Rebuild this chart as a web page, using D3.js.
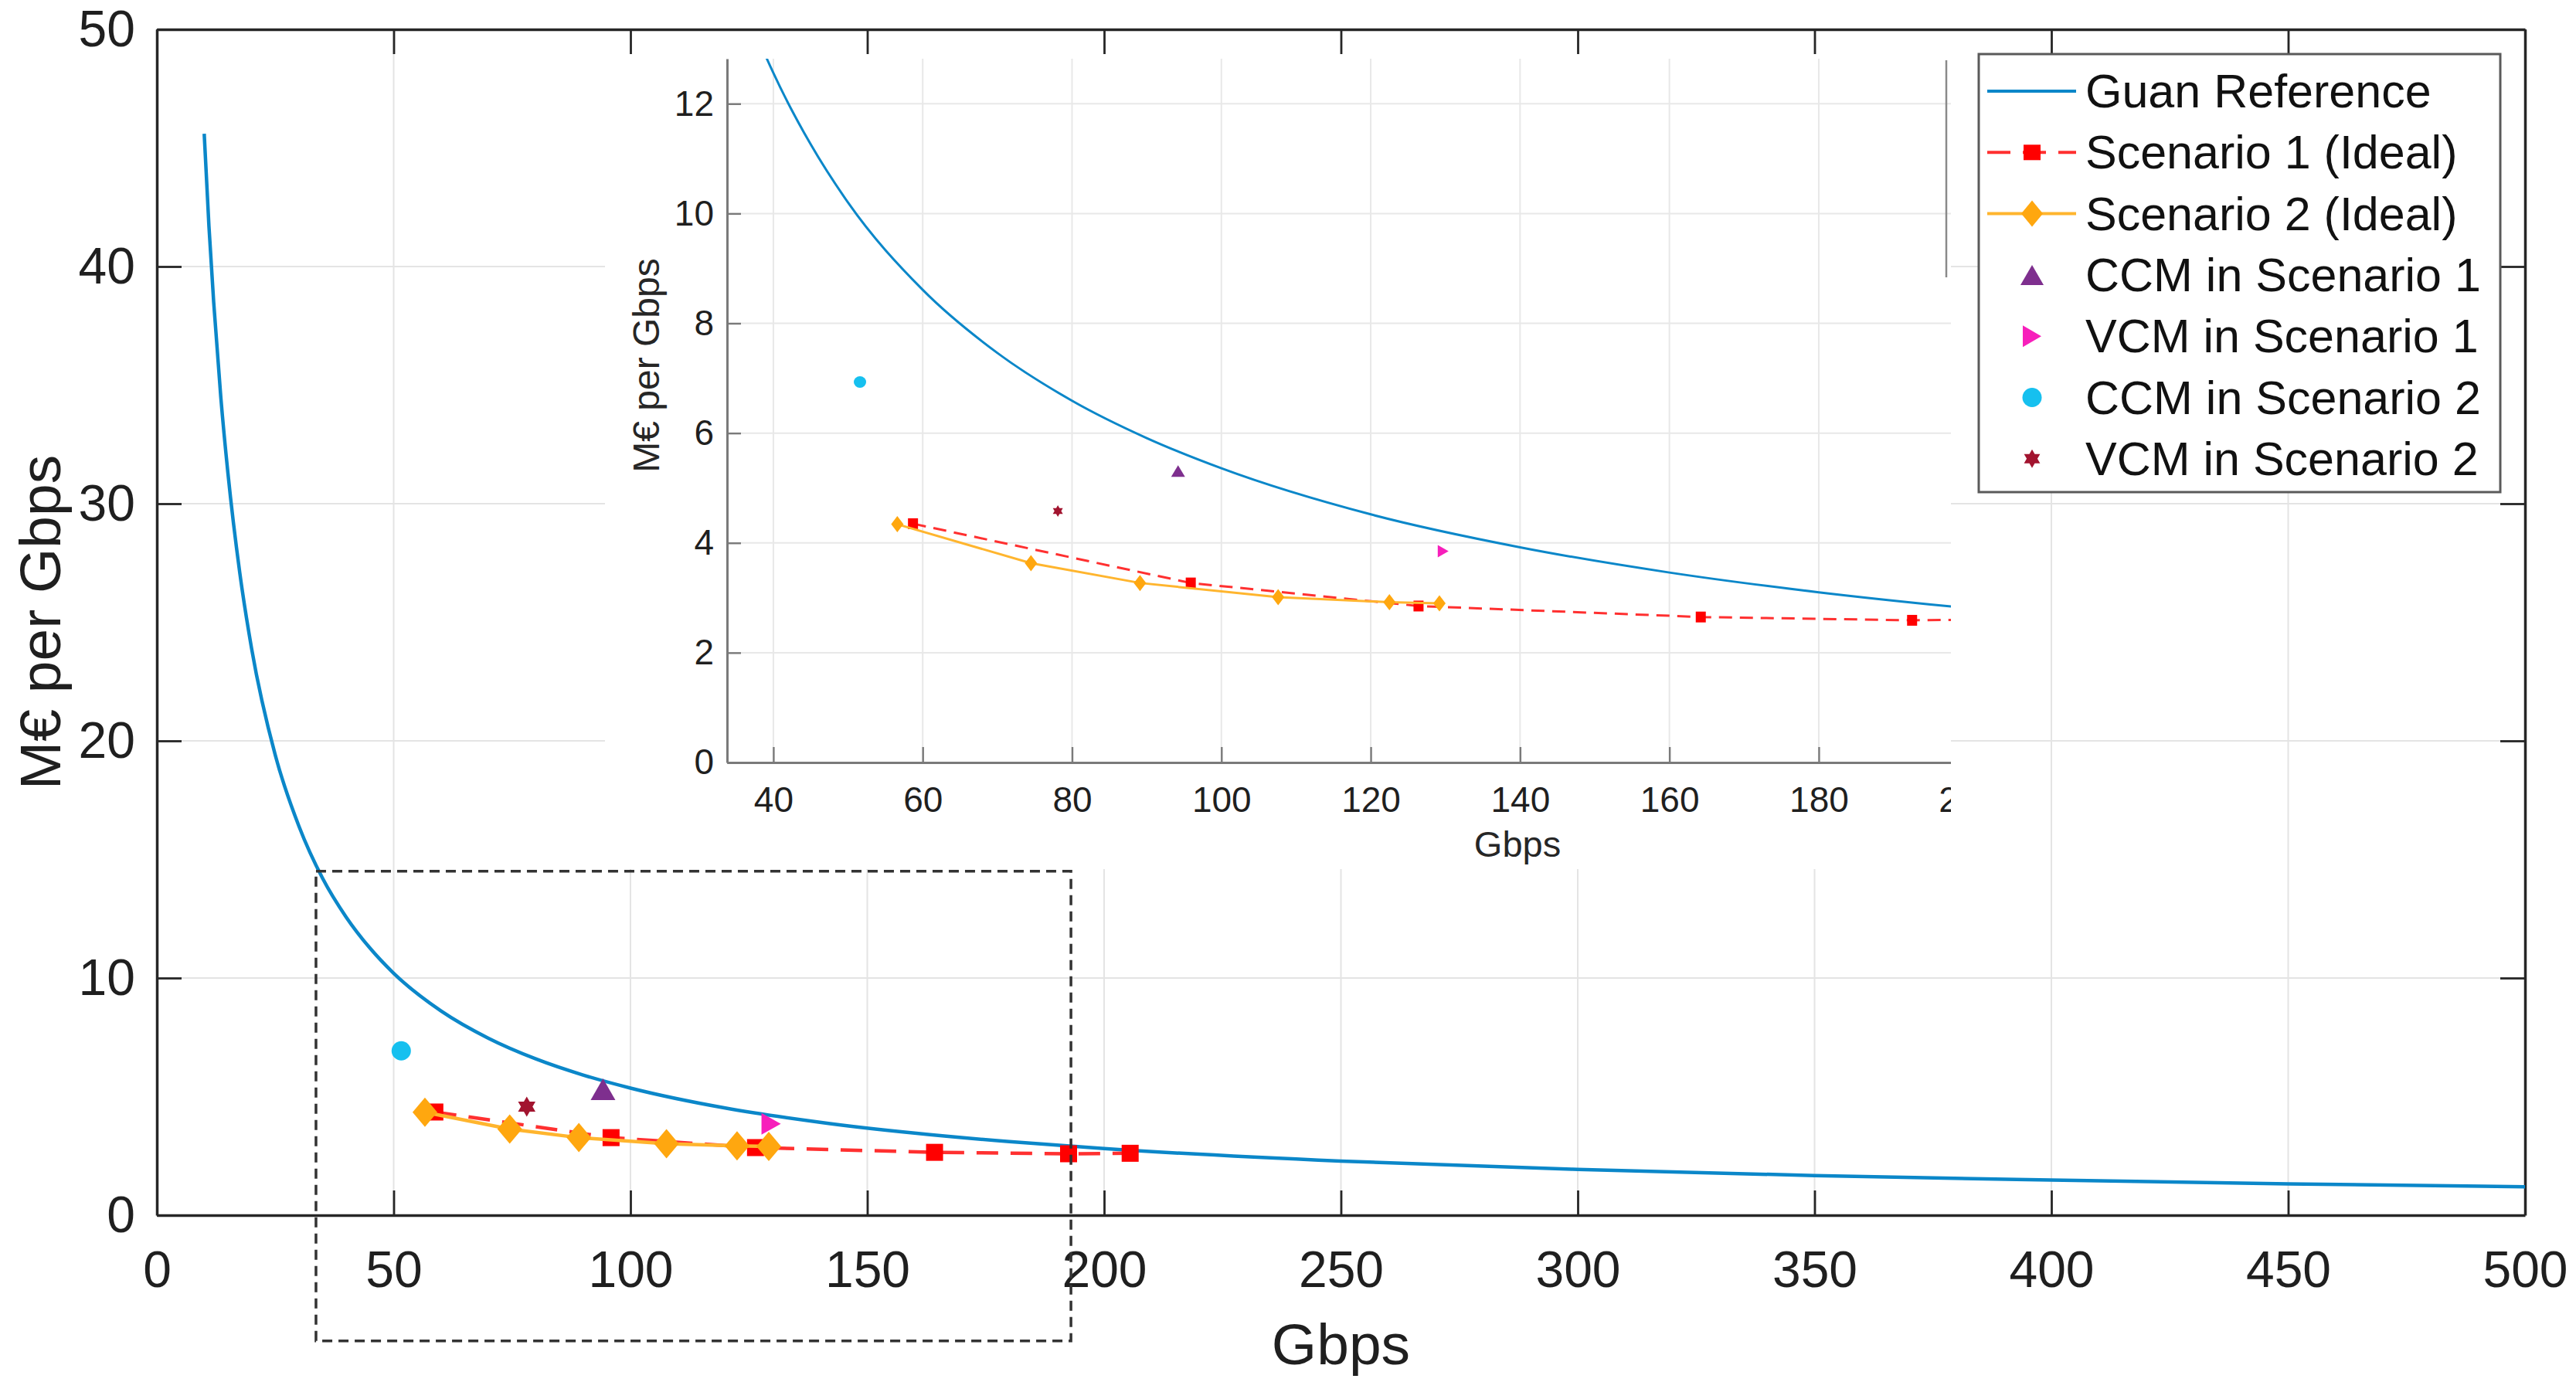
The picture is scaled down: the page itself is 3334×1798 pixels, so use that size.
<!DOCTYPE html>
<html>
<head>
<meta charset="utf-8">
<script src="https://cdn.jsdelivr.net/npm/d3@7"></script>
<style>
	body { margin: 0; background: #fff; }
	svg { display: block; font-family: "Liberation Sans", Arial, sans-serif; }
</style>
</head>
<body>
<div id="chart"></div>
<script>
// data
const guanGbps = [10, 11, 12, 13.5, 15, 17.5, 20, 25, 30, 35, 40, 45, 50, 60, 70, 80, 90, 100, 120, 140, 160, 180, 200, 250, 300, 350, 400, 450, 500];
const guanCost = [45.6, 41.7, 38.5, 34.5, 31.3, 27.1, 23.9, 19.4, 16.4, 14.2, 12.56, 11.26, 10.2, 8.61, 7.46, 6.59, 5.91, 5.36, 4.52, 3.92, 3.46, 3.1, 2.81, 2.28, 1.93, 1.67, 1.48, 1.32, 1.2];

const s1Gbps = [58.7, 95.9, 126.4, 164.2, 192.5, 205.5];
const s1Cost = [4.35, 3.27, 2.85, 2.65, 2.59, 2.61];

const s2Gbps = [56.6, 74.5, 89.1, 107.6, 122.5, 129.2];
const s2Cost = [4.34, 3.63, 3.27, 3.01, 2.92, 2.9];

const ccm1 = [94.2, 5.31];
const vcm1 = [129.7, 3.85];
const ccm2 = [51.6, 6.93];
const vcm2 = [78.1, 4.58];

const legendLabels = [
	"Guan Reference",
	"Scenario 1 (Ideal)",
	"Scenario 2 (Ideal)",
	"CCM in Scenario 1",
	"VCM in Scenario 1",
	"CCM in Scenario 2",
	"VCM in Scenario 2",
];

const mainXTicks = d3.range(0, 501, 50);
const mainYTicks = d3.range(0, 51, 10);
const insetXTicks = d3.range(40, 201, 20);
const insetYTicks = d3.range(0, 13, 2);

// zoom box annotation (in main-axis units)
const zoomBoxX = [33.6, 193];
const zoomBoxY = [-5.3, 14.5];

const colors = {
	guan: "#0b87c9",
	s1: "#ff0000",
	s1Line: "#ff3030",
	s2: "#ffa70f",
	s2Line: "#ffb52e",
	ccm1: "#7e2f8e",
	vcm1: "#f71fbb",
	ccm2: "#16c0ef",
	vcm2: "#a2142f",
};

// marker shapes centred on 0,0
function markerPath(type, w, h) {
	const a = w / 2, b = h / 2;
	if (type === "square") return `M${-a},${-b}H${a}V${b}H${-a}Z`;
	if (type === "diamond") return `M0,${-b}L${a},0L0,${b}L${-a},0Z`;
	if (type === "triUp") return `M0,${-b}L${a},${b}L${-a},${b}Z`;
	if (type === "triRight") return `M${a},0L${-a},${b}L${-a},${-b}Z`;
	if (type === "circle") return `M${-a},0A${a},${b} 0 1,0 ${a},0A${a},${b} 0 1,0 ${-a},0Z`;
	if (type === "hexagram") {
		let p = "";
		[-90, 90].forEach((start) => {
			p += d3.range(3).map((k, i) => {
				const ang = ((start + k * 120) * Math.PI) / 180;
				return `${i ? "L" : "M"}${a * Math.cos(ang)},${b * Math.sin(ang)}`;
			}).join("") + "Z";
		});
		return p;
	}
}

const width = 3334;
const height = 1798;

const svg = d3.select("#chart")
	.append("svg")
	.attr("width", width)
	.attr("height", height);

svg.append("rect").attr("width", width).attr("height", height).attr("fill", "#fff");

// ---------- main axes ----------
const main = { left: 203, right: 3268, top: 38, bottom: 1573 };
const xScale = d3.scaleLinear().domain([0, 500]).range([main.left, main.right]);
const yScale = d3.scaleLinear().domain([0, 50]).range([main.bottom, main.top]);

// grid
mainXTicks.forEach((t) => {
	svg.append("line")
		.attr("x1", xScale(t)).attr("x2", xScale(t))
		.attr("y1", main.top).attr("y2", main.bottom)
		.attr("stroke", "#e4e4e4").attr("stroke-width", 2);
});
mainYTicks.forEach((t) => {
	svg.append("line")
		.attr("x1", main.left).attr("x2", main.right)
		.attr("y1", yScale(t)).attr("y2", yScale(t))
		.attr("stroke", "#e4e4e4").attr("stroke-width", 2);
});

// white area behind the inset
svg.append("rect")
	.attr("x", 783).attr("y", 40)
	.attr("width", 2525 - 783).attr("height", 1125 - 40)
	.attr("fill", "#fff");

function styleAxis(g, color, fontSize, strokeW) {
	g.select(".domain").attr("stroke", color).attr("stroke-width", strokeW);
	g.selectAll(".tick line").attr("stroke", color).attr("stroke-width", strokeW * 0.8);
	g.selectAll(".tick text")
		.attr("fill", "#1f1f1f")
		.style("font-size", `${fontSize}px`)
		.style("font-family", '"Liberation Sans", Arial, sans-serif');
}

const mainAxisColor = "#262626";
svg.append("g")
	.attr("transform", `translate(0, ${main.bottom})`)
	.call(d3.axisBottom(xScale).tickValues(mainXTicks).tickSizeInner(-32).tickSizeOuter(0).tickPadding(46))
	.call((g) => styleAxis(g, mainAxisColor, 66, 3.5));
svg.append("g")
	.attr("transform", `translate(${main.left}, 0)`)
	.call(d3.axisLeft(yScale).tickValues(mainYTicks).tickSizeInner(-32).tickSizeOuter(0).tickPadding(28))
	.call((g) => styleAxis(g, mainAxisColor, 66, 3.5));
svg.append("g")
	.attr("transform", `translate(0, ${main.top})`)
	.call(d3.axisTop(xScale).tickValues(mainXTicks).tickSizeInner(-32).tickSizeOuter(0).tickFormat(""))
	.call((g) => styleAxis(g, mainAxisColor, 66, 3.5));
svg.append("g")
	.attr("transform", `translate(${main.right}, 0)`)
	.call(d3.axisRight(yScale).tickValues(mainYTicks).tickSizeInner(-32).tickSizeOuter(0).tickFormat(""))
	.call((g) => styleAxis(g, mainAxisColor, 66, 3.5));

// axis titles
svg.append("text")
	.attr("x", (main.left + main.right) / 2)
	.attr("y", 1766)
	.attr("text-anchor", "middle")
	.attr("fill", "#1f1f1f")
	.style("font-size", "75px")
	.text("Gbps");
svg.append("text")
	.attr("transform", `translate(78, ${(main.top + main.bottom) / 2}) rotate(-90)`)
	.attr("text-anchor", "middle")
	.attr("fill", "#1f1f1f")
	.style("font-size", "75px")
	.text("M€ per Gbps");

// ---------- series drawing ----------
function drawSeries(g, xs, ys, opt) {
	const line = d3.line()
		.x((d) => xs(d[0]))
		.y((d) => ys(d[1]));

	const guan = d3.zip(guanGbps, guanCost);
	g.append("path")
		.attr("d", line.curve(d3.curveMonotoneX)(guan))
		.attr("fill", "none").attr("stroke", colors.guan).attr("stroke-width", opt.lw);

	const s1 = d3.zip(s1Gbps, s1Cost);
	g.append("path")
		.attr("d", line.curve(d3.curveLinear)(s1))
		.attr("fill", "none").attr("stroke", colors.s1Line).attr("stroke-width", opt.lw)
		.attr("stroke-dasharray", opt.dash);
	g.selectAll(null).data(s1).enter().append("path")
		.attr("transform", (d) => `translate(${xs(d[0])},${ys(d[1])})`)
		.attr("d", markerPath("square", ...opt.square))
		.attr("fill", colors.s1);

	const s2 = d3.zip(s2Gbps, s2Cost);
	g.append("path")
		.attr("d", line.curve(d3.curveLinear)(s2))
		.attr("fill", "none").attr("stroke", colors.s2Line).attr("stroke-width", opt.lw);
	g.selectAll(null).data(s2).enter().append("path")
		.attr("transform", (d) => `translate(${xs(d[0])},${ys(d[1])})`)
		.attr("d", markerPath("diamond", ...opt.diamond))
		.attr("fill", colors.s2);

	const singles = [
		[ccm1, "triUp", opt.triUp, colors.ccm1],
		[vcm1, "triRight", opt.triRight, colors.vcm1],
		[ccm2, "circle", opt.circle, colors.ccm2],
		[vcm2, "hexagram", opt.hexagram, colors.vcm2],
	];
	singles.forEach(([pt, type, size, color]) => {
		g.append("path")
			.attr("transform", `translate(${xs(pt[0])},${ys(pt[1])})`)
			.attr("d", markerPath(type, ...size))
			.attr("fill", color);
	});
}

const mainG = svg.append("g");
drawSeries(mainG, xScale, yScale, {
	lw: 4.5,
	dash: "28,16",
	square: [22, 22],
	diamond: [32, 38],
	triUp: [32, 28],
	triRight: [25, 28],
	circle: [25, 25],
	hexagram: [26, 26],
});

// ---------- inset ----------
const inset = { left: 941, right: 2525, top: 76, bottom: 987 };
const ixScale = d3.scaleLinear().domain([33.8, 197.7]).range([inset.left, inset.right]);
const iyScale = d3.scaleLinear().domain([0, 12.82]).range([inset.bottom, inset.top]);

const defs = svg.append("defs");
defs.append("clipPath").attr("id", "inset-area")
	.append("rect").attr("x", 700).attr("y", 40)
	.attr("width", inset.right - 700).attr("height", 1125 - 40);
defs.append("clipPath").attr("id", "inset-plot")
	.append("rect").attr("x", inset.left).attr("y", inset.top)
	.attr("width", inset.right - inset.left).attr("height", inset.bottom - inset.top);

const insetG = svg.append("g").attr("clip-path", "url(#inset-area)");

insetXTicks.forEach((t) => {
	insetG.append("line")
		.attr("x1", ixScale(t)).attr("x2", ixScale(t))
		.attr("y1", inset.top).attr("y2", inset.bottom)
		.attr("stroke", "#e8e8e8").attr("stroke-width", 2);
});
insetYTicks.forEach((t) => {
	insetG.append("line")
		.attr("x1", inset.left).attr("x2", inset.right)
		.attr("y1", iyScale(t)).attr("y2", iyScale(t))
		.attr("stroke", "#e8e8e8").attr("stroke-width", 2);
});

const insetAxisColor = "#7a7a7a";
insetG.append("g")
	.attr("transform", `translate(0, ${inset.bottom})`)
	.call(d3.axisBottom(ixScale).tickValues(insetXTicks).tickSizeInner(-20).tickSizeOuter(0).tickPadding(31))
	.call((g) => styleAxis(g, insetAxisColor, 46, 3));
insetG.append("g")
	.attr("transform", `translate(${inset.left}, 0)`)
	.call(d3.axisLeft(iyScale).tickValues(insetYTicks).tickSizeInner(-18).tickSizeOuter(0).tickPadding(17))
	.call((g) => styleAxis(g, insetAxisColor, 46, 3));

insetG.append("text")
	.attr("x", 1964)
	.attr("y", 1109)
	.attr("text-anchor", "middle")
	.attr("fill", "#262626")
	.style("font-size", "47px")
	.text("Gbps");
insetG.append("text")
	.attr("transform", `translate(853, 473) rotate(-90)`)
	.attr("text-anchor", "middle")
	.attr("fill", "#262626")
	.style("font-size", "48px")
	.text("M€ per Gbps");

const insetPlot = insetG.append("g").attr("clip-path", "url(#inset-plot)");
drawSeries(insetPlot, ixScale, iyScale, {
	lw: 3,
	dash: "17,10",
	square: [13, 14],
	diamond: [16, 21],
	triUp: [18, 15],
	triRight: [14, 16],
	circle: [16, 15],
	hexagram: [15, 15],
});

// stray frame edge left of the legend
svg.append("line")
	.attr("x1", 2519).attr("x2", 2519)
	.attr("y1", 78).attr("y2", 359)
	.attr("stroke", "#8a8a8a").attr("stroke-width", 2.5);

// ---------- zoom box ----------
svg.append("rect")
	.attr("x", xScale(zoomBoxX[0]))
	.attr("y", yScale(zoomBoxY[1]))
	.attr("width", xScale(zoomBoxX[1]) - xScale(zoomBoxX[0]))
	.attr("height", yScale(zoomBoxY[0]) - yScale(zoomBoxY[1]))
	.attr("fill", "none")
	.attr("stroke", "#333")
	.attr("stroke-width", 3.5)
	.attr("stroke-dasharray", "13,8");

// ---------- legend ----------
const legend = svg.append("g");
legend.append("rect")
	.attr("x", 2561).attr("y", 70)
	.attr("width", 3236 - 2561).attr("height", 637 - 70)
	.attr("fill", "#fff")
	.attr("stroke", "#5a5a5a")
	.attr("stroke-width", 3);

const rowY = (i) => 118 + i * 79.3;
const markerX = 2630;
const legendMarkers = [
	null,
	["square", [22, 20], colors.s1],
	["diamond", [28, 34], colors.s2],
	["triUp", [30, 26], colors.ccm1],
	["triRight", [24, 28], colors.vcm1],
	["circle", [25, 25], colors.ccm2],
	["hexagram", [24, 24], colors.vcm2],
];
const legendLines = [
	[colors.guan, null],
	[colors.s1Line, "30,16"],
	[colors.s2Line, null],
];
legendLines.forEach(([color, dash], i) => {
	legend.append("line")
		.attr("x1", 2572).attr("x2", 2687)
		.attr("y1", rowY(i)).attr("y2", rowY(i))
		.attr("stroke", color).attr("stroke-width", 4)
		.attr("stroke-dasharray", dash);
});
legendMarkers.forEach((m, i) => {
	if (!m) return;
	legend.append("path")
		.attr("transform", `translate(${markerX},${rowY(i)})`)
		.attr("d", markerPath(m[0], ...m[1]))
		.attr("fill", m[2]);
});
legendLabels.forEach((label, i) => {
	legend.append("text")
		.attr("x", 2699)
		.attr("y", rowY(i) + 21)
		.attr("fill", "#111")
		.style("font-size", "61px")
		.text(label);
});
</script>
</body>
</html>
